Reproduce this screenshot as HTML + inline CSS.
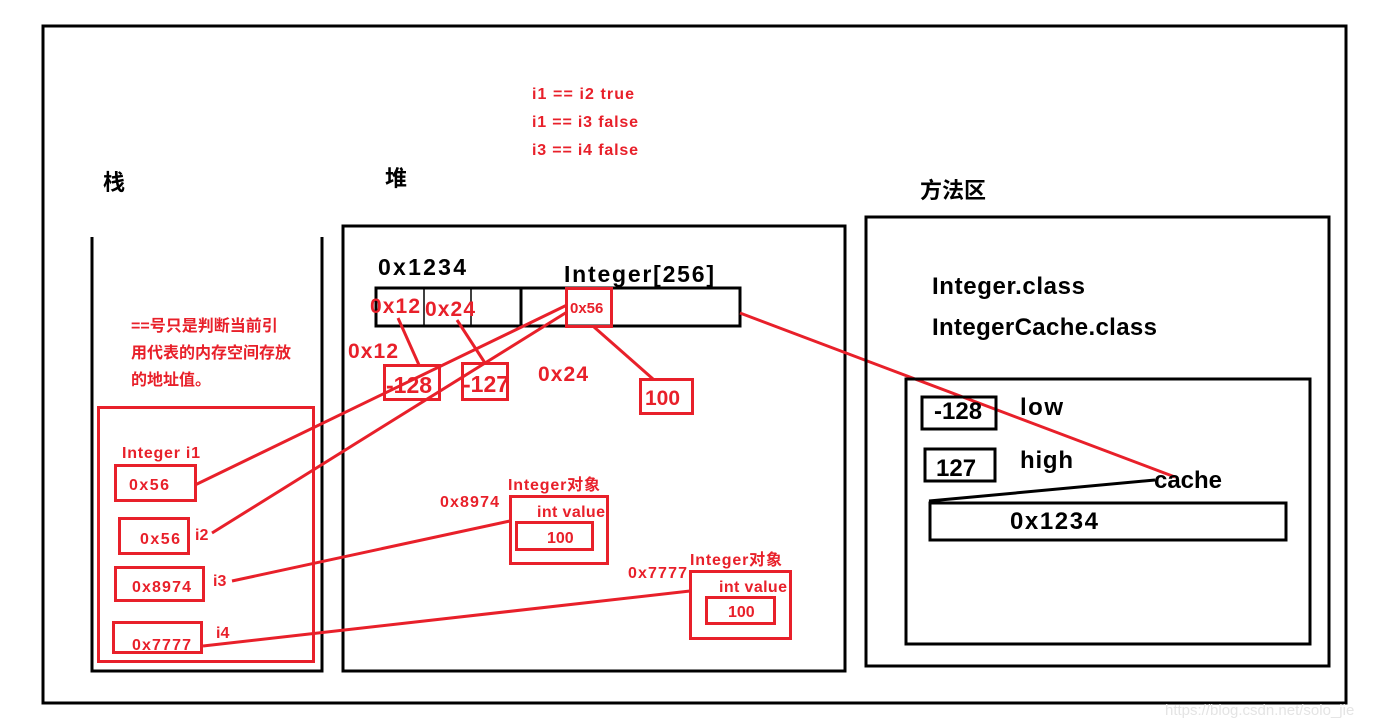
<!DOCTYPE html>
<html><head><meta charset="utf-8"><style>
html,body{margin:0;padding:0;background:#fff;}
svg{display:block}
text{font-family:"Liberation Sans","Noto Sans CJK SC",sans-serif;font-weight:bold}
</style></head><body>
<svg width="1374" height="724" viewBox="0 0 1374 724" xmlns="http://www.w3.org/2000/svg">
<rect x="0" y="0" width="1374" height="724" fill="#fff"/>
<rect x="43" y="26" width="1303" height="677" fill="none" stroke="#000" stroke-width="3"/>
<g fill="#e8202a" font-size="16">
<text x="532" y="99" textLength="102" lengthAdjust="spacing">i1 == i2 true</text>
<text x="532" y="127" textLength="106" lengthAdjust="spacing">i1 == i3 false</text>
<text x="532" y="155" textLength="106" lengthAdjust="spacing">i3 == i4 false</text>
</g>
<g fill="#000" font-size="22">
<text x="103" y="190">栈</text>
<text x="385" y="186">堆</text>
<text x="920" y="198">方法区</text>
</g>
<path d="M92 237 V671 H322 V237" fill="none" stroke="#000" stroke-width="3"/>
<g fill="#e8202a" font-size="16">
<text x="131" y="331">==号只是判断当前引</text>
<text x="131" y="358">用代表的内存空间存放</text>
<text x="131" y="385">的地址值。</text>
</g>
<rect x="98.5" y="407.5" width="215" height="254" fill="none" stroke="#e8202a" stroke-width="3"/>
<g fill="none" stroke="#e8202a" stroke-width="3">
<rect x="115.5" y="465.5" width="80" height="35"/>
<rect x="119.5" y="518.5" width="69" height="35"/>
<rect x="115.5" y="567.5" width="88" height="33"/>
<rect x="113.5" y="622.5" width="88" height="30"/>
</g>
<g fill="#e8202a" font-size="16">
<text x="122" y="458" textLength="78" lengthAdjust="spacing">Integer i1</text>
<text x="129" y="490" textLength="40" lengthAdjust="spacing">0x56</text>
<text x="140" y="544" textLength="40" lengthAdjust="spacing">0x56</text>
<text x="195" y="540">i2</text>
<text x="132" y="592" textLength="59" lengthAdjust="spacing">0x8974</text>
<text x="213" y="586">i3</text>
<text x="132" y="650" textLength="59" lengthAdjust="spacing">0x7777</text>
<text x="216" y="638">i4</text>
</g>
<rect x="343" y="226" width="502" height="445" fill="none" stroke="#000" stroke-width="3"/>
<rect x="376" y="288" width="364" height="38" fill="none" stroke="#000" stroke-width="3"/>
<line x1="424" y1="288" x2="424" y2="326" stroke="#000" stroke-width="1.5"/>
<line x1="471" y1="288" x2="471" y2="326" stroke="#000" stroke-width="1.5"/>
<line x1="521" y1="288" x2="521" y2="326" stroke="#000" stroke-width="3"/>
<rect x="566.5" y="288.5" width="45" height="38" fill="none" stroke="#e8202a" stroke-width="3"/>
<g fill="#000" font-size="23">
<text x="378" y="275" textLength="88" lengthAdjust="spacing">0x1234</text>
<text x="564" y="282" textLength="150" lengthAdjust="spacing">Integer[256]</text>
</g>
<g fill="#e8202a" font-size="21">
<text x="370" y="313" textLength="50" lengthAdjust="spacing">0x12</text>
<text x="425" y="316" textLength="50" lengthAdjust="spacing">0x24</text>
<text x="348" y="358" textLength="50" lengthAdjust="spacing">0x12</text>
<text x="538" y="381" textLength="50" lengthAdjust="spacing">0x24</text>
</g>
<text x="570" y="313" fill="#e8202a" font-size="15">0x56</text>
<g fill="none" stroke="#e8202a" stroke-width="3">
<rect x="384.5" y="365.5" width="55" height="34"/>
<rect x="462.5" y="363.5" width="45" height="36"/>
<rect x="640.5" y="379.5" width="52" height="34"/>
<rect x="510.5" y="496.5" width="97" height="67"/>
<rect x="516.5" y="522.5" width="76" height="27"/>
<rect x="690.5" y="571.5" width="100" height="67"/>
<rect x="706.5" y="597.5" width="68" height="26"/>
</g>
<g fill="#e8202a" font-size="23">
<text x="386" y="393">-128</text>
<text x="463" y="392">-127</text>
</g>
<text x="645" y="405" fill="#e8202a" font-size="21">100</text>
<g fill="#e8202a" font-size="16">
<text x="508" y="490" textLength="92" lengthAdjust="spacing">Integer对象</text>
<text x="440" y="507" textLength="59" lengthAdjust="spacing">0x8974</text>
<text x="537" y="517" textLength="68" lengthAdjust="spacing">int value</text>
<text x="547" y="543">100</text>
<text x="690" y="565" textLength="92" lengthAdjust="spacing">Integer对象</text>
<text x="628" y="578" textLength="59" lengthAdjust="spacing">0x7777</text>
<text x="719" y="592" textLength="68" lengthAdjust="spacing">int value</text>
<text x="728" y="617">100</text>
</g>
<g stroke="#e8202a" stroke-width="3" fill="none">
<line x1="398" y1="318" x2="419" y2="365"/>
<line x1="457" y1="320" x2="485" y2="363"/>
<line x1="594" y1="327" x2="653" y2="379"/>
<line x1="567" y1="305" x2="195" y2="485"/>
<line x1="567" y1="312" x2="212" y2="533"/>
<line x1="232" y1="581" x2="510" y2="521"/>
<line x1="203" y1="646" x2="690" y2="591"/>
<line x1="740" y1="313" x2="1175" y2="477"/>
</g>
<rect x="866" y="217" width="463" height="449" fill="none" stroke="#000" stroke-width="3"/>
<rect x="906" y="379" width="404" height="265" fill="none" stroke="#000" stroke-width="3"/>
<g fill="#000" font-size="24">
<text x="932" y="294" textLength="153" lengthAdjust="spacing">Integer.class</text>
<text x="932" y="335" textLength="225" lengthAdjust="spacing">IntegerCache.class</text>
<text x="934" y="419">-128</text>
<text x="1020" y="415" textLength="43" lengthAdjust="spacing">low</text>
<text x="936" y="476">127</text>
<text x="1020" y="468" textLength="53" lengthAdjust="spacing">high</text>
<text x="1154" y="488" textLength="68" lengthAdjust="spacing">cache</text>
<text x="1010" y="529" textLength="88" lengthAdjust="spacing">0x1234</text>
</g>
<g fill="none" stroke="#000" stroke-width="3">
<rect x="922" y="397" width="74" height="32"/>
<rect x="925" y="449" width="70" height="32"/>
<rect x="930" y="503" width="356" height="37"/>
</g>
<line x1="929" y1="501" x2="1155" y2="480" stroke="#000" stroke-width="3"/>
<text x="1165" y="715" fill="#e4e4e4" font-size="15" style="font-weight:normal">https://blog.csdn.net/solo_jie</text>
</svg>
</body></html>
